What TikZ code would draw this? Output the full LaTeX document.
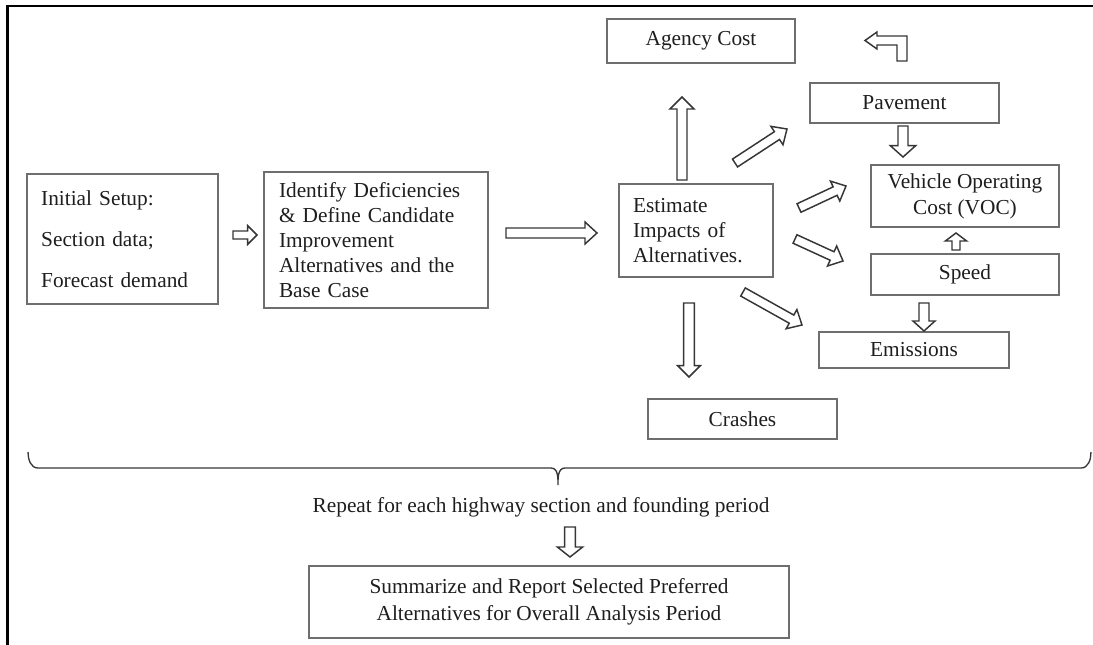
\documentclass[tikz,border=0pt]{standalone}
\usepackage{fontspec}
\setmainfont{Liberation Serif}
\usetikzlibrary{calc}

\definecolor{boxgray}{HTML}{6E6E6E}
\definecolor{arrowgray}{HTML}{363636}
\definecolor{inkgray}{HTML}{1E1E1E}

% Hollow block arrow from tail #1 to tip #2:
% #3 half shaft width, #4 half head width, #5 head length
\newcommand\blockarrow[5]{%
  \coordinate (babase) at ($(#2)!#5!(#1)$);
  \draw[hollow] ($(#1)!#3!90:(#2)$) -- ($(babase)!#3!90:(#2)$)
    -- ($(babase)!#4!90:(#2)$) -- (#2) -- ($(babase)!#4!-90:(#2)$)
    -- ($(babase)!#3!-90:(#2)$) -- ($(#1)!#3!-90:(#2)$) -- cycle;}

\begin{document}
\begin{tikzpicture}[x=0.75pt, y=-0.75pt,
  box/.style={draw=boxgray, line width=0.9pt, text=inkgray,
    font=\fontsize{16}{18.6}\selectfont, inner sep=0pt},
  dims/.style 2 args={minimum width=#1*0.75pt, minimum height=#2*0.75pt},
  hollow/.style={draw=arrowgray, line width=1.1pt, fill=white, line join=miter},
  frame/.style={draw=black, line width=1.6pt},
  bracket/.style={draw=arrowgray, line width=1pt},
  label/.style={text=inkgray, font=\fontsize{16}{18.6}\selectfont, inner sep=0pt}]

\useasboundingbox (0,0) rectangle (1093,645);

% outer frame (left and top edges)
\draw[frame] (7.5,645) -- (7.5,6) -- (1093,6);

% process boxes
\node[box, dims={191}{130}, text width=122pt, inner xsep=10.5pt, align=left,
  font=\fontsize{16}{30.75}\selectfont] (init) at (122.5,239)
  {Initial Setup:\\Section data;\\Forecast demand};
\node[box, dims={224}{136}, text width=145.5pt, inner xsep=11.25pt, align=left]
  (ident) at (376,240)
  {Identify Deficiencies\\\& Define Candidate\\Improvement\\Alternatives and the\\Base Case};
\node[box, dims={154}{93}, text width=94.5pt, inner xsep=10.5pt, align=left]
  (est) at (696,230.5) {Estimate\\Impacts of\\Alternatives.};
\node[box, dims={188}{44}] (agency) at (701,41) {Agency Cost};
\node[box, dims={189}{40}] (pave) at (904.5,103) {Pavement};
\node[box, dims={188}{62}, align=center, font=\fontsize{16}{19.5}\selectfont]
  (voc) at (965,196) {Vehicle Operating\\Cost (VOC)};
\node[box, dims={188}{41}] (speed) at (965,274.5) {Speed};
\node[box, dims={190}{36}] (emis) at (914,350) {Emissions};
\node[box, dims={189}{40}] (crash) at (742.5,419) {Crashes};
\node[box, dims={480}{72}, align=center, font=\fontsize{16}{20.25}\selectfont]
  (summ) at (549,602)
  {Summarize and Report Selected Preferred\\Alternatives for Overall Analysis Period};

\node[label] (repeat) at (541,507) {Repeat for each highway section and founding period};

% arrow end points
\coordinate (a1t) at (233,235);   \coordinate (a1h) at (257,235);
\coordinate (a2t) at (506,233);   \coordinate (a2h) at (597,233);
\coordinate (a3t) at (682,180);   \coordinate (a3h) at (682,97);
\coordinate (a4t) at (735,163);   \coordinate (a4h) at (787,129);
\coordinate (a5t) at (799,208);   \coordinate (a5h) at (846,186);
\coordinate (a6t) at (795,239);   \coordinate (a6h) at (843,261);
\coordinate (a7t) at (743,292);   \coordinate (a7h) at (802,325);
\coordinate (a8t) at (689,303);   \coordinate (a8h) at (689,377);
\coordinate (a9t) at (903,126);   \coordinate (a9h) at (903,157);
\coordinate (a10t) at (956,250);  \coordinate (a10h) at (956,233);
\coordinate (a11t) at (924,303);  \coordinate (a11h) at (924,331);
\coordinate (a12t) at (570,527);  \coordinate (a12h) at (570,557);

\blockarrow{a1t}{a1h}{3pt}{7pt}{7pt}
\blockarrow{a2t}{a2h}{3.75pt}{8.25pt}{9pt}
\blockarrow{a3t}{a3h}{3.75pt}{9pt}{9pt}
\blockarrow{a4t}{a4h}{3.5pt}{8.25pt}{9pt}
\blockarrow{a5t}{a5h}{3.5pt}{8.25pt}{9pt}
\blockarrow{a6t}{a6h}{3.5pt}{8.25pt}{9pt}
\blockarrow{a7t}{a7h}{3.5pt}{8.25pt}{9pt}
\blockarrow{a8t}{a8h}{4pt}{8.5pt}{8.5pt}
\blockarrow{a9t}{a9h}{3.75pt}{9.5pt}{8.5pt}
\blockarrow{a10t}{a10h}{3pt}{8pt}{6pt}
\blockarrow{a11t}{a11h}{3.75pt}{8.25pt}{7.5pt}
\blockarrow{a12t}{a12h}{4pt}{9.5pt}{7.5pt}

% bent return arrow above Pavement
\draw[hollow] (897,61) -- (907,61) -- (907,36) -- (877,36) -- (877,32)
  -- (865,40.5) -- (877,49) -- (877,45) -- (897,45) -- cycle;

% grouping bracket
\draw[bracket] (28,452) to[out=-90,in=180] (38,468) -- (551,468)
  to[out=0,in=90] (558,485) to[out=90,in=180] (565,468) -- (1081,468)
  to[out=0,in=-90] (1091,452);
\end{tikzpicture}
\end{document}
